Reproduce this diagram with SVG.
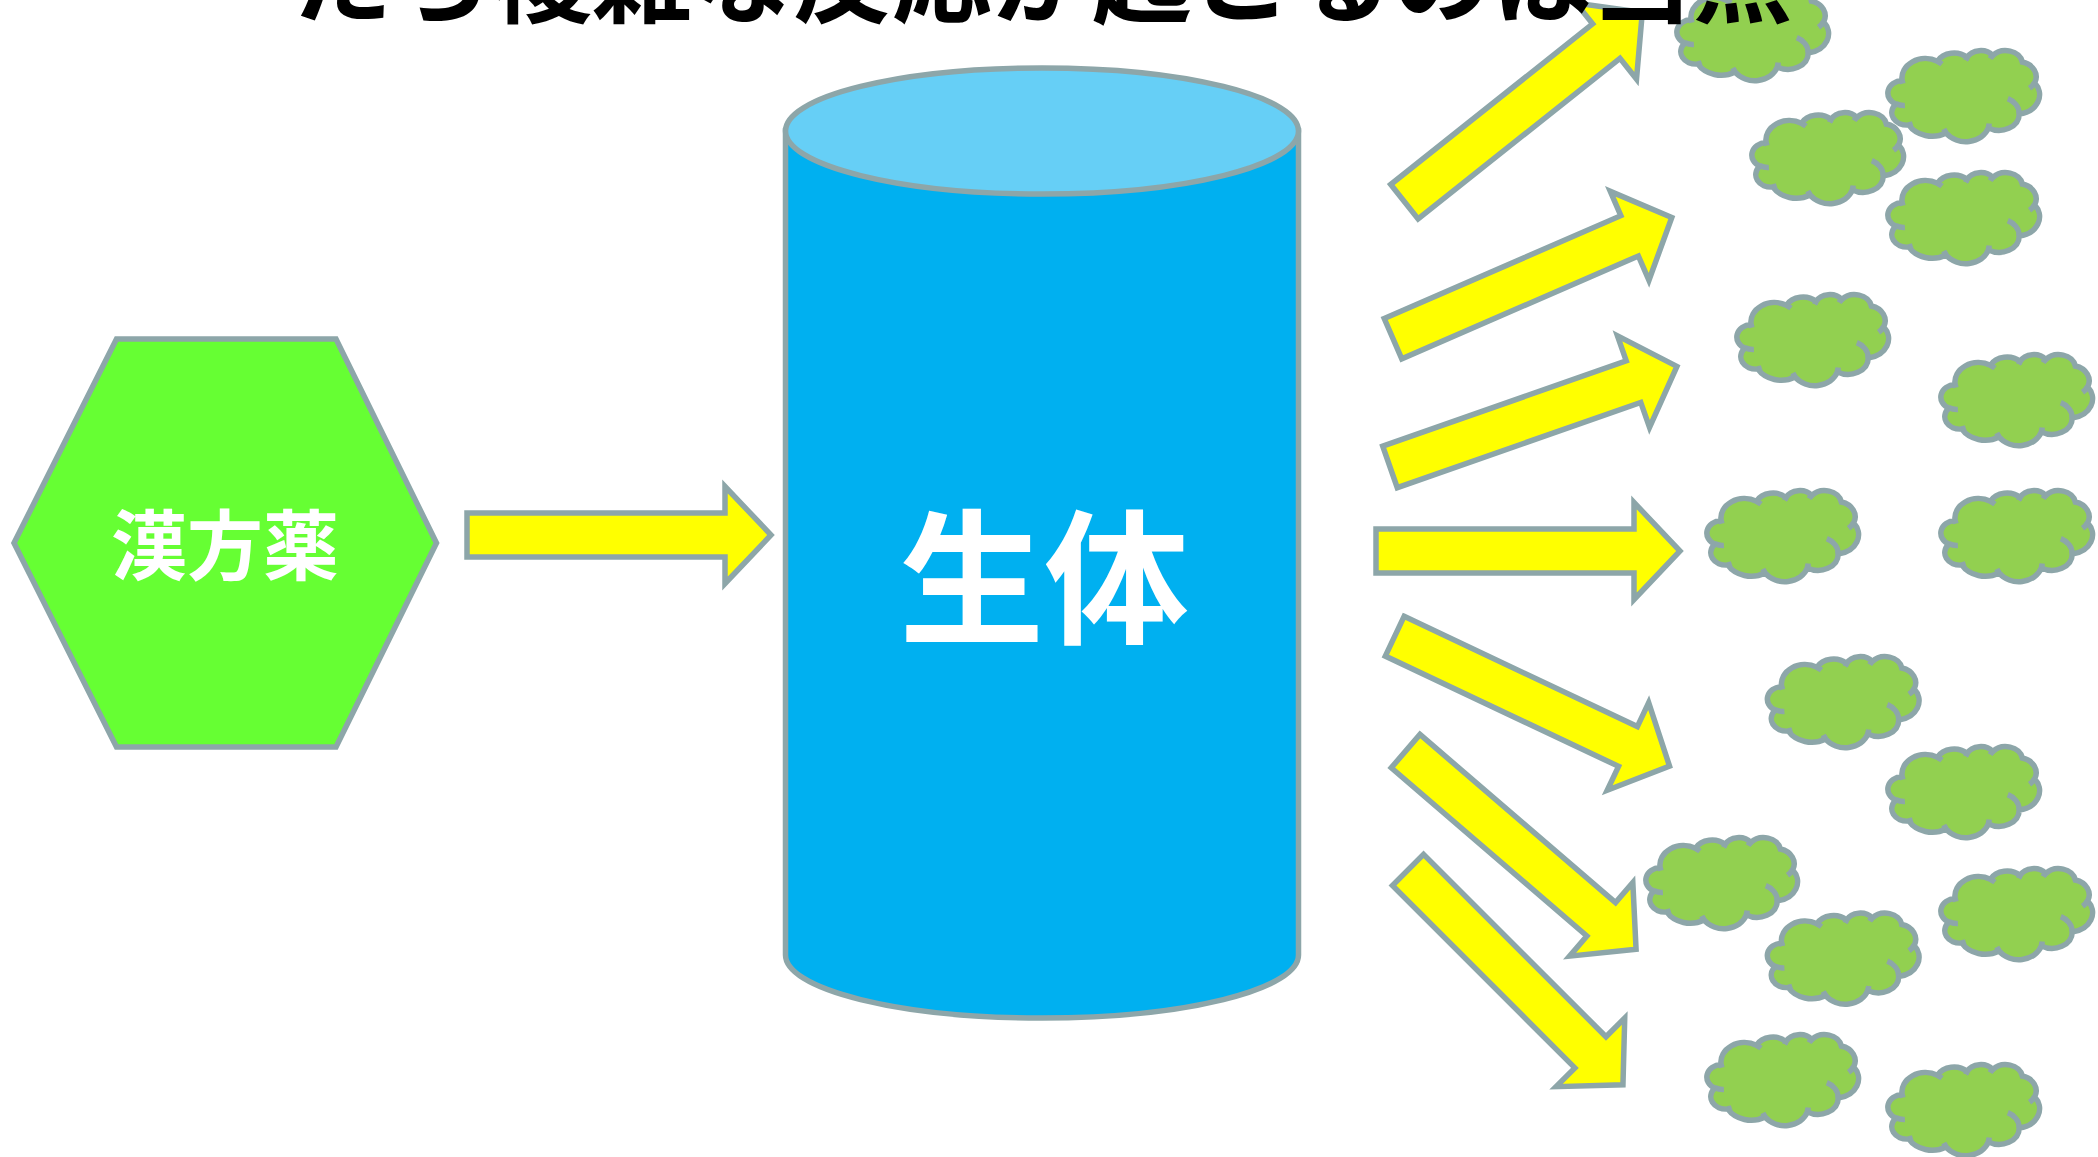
<svg xmlns="http://www.w3.org/2000/svg" xmlns:xlink="http://www.w3.org/1999/xlink" width="2098" height="1157" viewBox="0 0 2098 1157">
<style>
.ln{stroke:#8DA6A9;stroke-width:5.5;stroke-linejoin:miter}
.arrow{fill:#FFFF00;stroke:#8DA6A9;stroke-width:5.5;stroke-linejoin:miter}
.cb{fill:#92D050;stroke:#8DA6A9;stroke-width:5.5;vector-effect:non-scaling-stroke}
.ci{fill:none;stroke:#8DA6A9;stroke-width:5.5;vector-effect:non-scaling-stroke}
.jp{font-family:"Noto Sans CJK JP","Noto Sans CJK SC",sans-serif;font-weight:bold;text-anchor:middle}
</style>
<defs>
<polygon id="arr" class="arrow" points="0,-22 258,-22 258,-48.5 304,0 258,48.5 258,22 0,22"/>
<path id="cloudBody" class="cb" d="M3900 14370 A6753 9190 0 0 1 14005 5203 A5333 7267 0 0 1 22456 3433 A4365 5945 0 0 1 29834 2482 A4857 6595 0 0 1 38319 5577 A5333 7273 0 0 1 41820 15461 A6775 9220 0 0 1 37406 30205 A5785 7867 0 0 1 28558 36815 A6752 9215 0 0 1 16484 39267 A7720 10543 0 0 1 5807 35474 A4360 5918 0 0 1 2115 25553 A4345 5945 0 0 1 3900 14370 Z"/>
<path id="cloudInner" class="ci" d="M4693 26177 A4345 5945 0 0 1 2160 25380 M6928 34899 A4360 5918 0 0 1 5819 35281 M16478 39090 A6752 9215 0 0 1 15809 37349 M28827 34751 A6752 9215 0 0 1 28560 36661 M34129 22954 A5785 7867 0 0 1 37381 30089 M41798 15354 A5333 7273 0 0 1 40349 18031 M38324 5426 A4857 6595 0 0 1 38401 6689 M29078 3952 A4857 6595 0 0 1 29820 2340 M22141 4720 A4365 5945 0 0 1 22500 3332 M14000 5192 A6753 9190 0 0 1 15300 6541 M4127 15789 A6753 9190 0 0 1 3901 14371"/>
<g id="cloud">
<use href="#cloudBody"/>
<use href="#cloudInner"/>
</g>
</defs>

<g id="node-kampo">
<polygon points="14,543 116.5,339 336,339 436.5,543 336,747 116.5,747" fill="#66FF33" class="ln"/>
<text class="jp" x="225" y="574" font-size="76" fill="#FFFFFF">漢方薬</text>
</g>

<g id="node-seitai">
<path d="M785.5,131 V955 A256.5,63 0 0 0 1298.5,955 V131 Z" fill="#00B0F0" class="ln"/>
<ellipse cx="1042" cy="131" rx="256.5" ry="63" fill="#66CFF6" class="ln"/>
<text class="jp" x="1044" y="633" font-size="145" fill="#FFFFFF">生体</text>
</g>

<g id="clouds">
<g id="cloud-1"><use href="#cloud" transform="translate(1677.5,-10.7) scale(0.0034954,0.0021065)"/></g>
<g id="cloud-2"><use href="#cloud" transform="translate(1888.5,50.3) scale(0.0034954,0.0021065)"/></g>
<g id="cloud-3"><use href="#cloud" transform="translate(1752.5,112.3) scale(0.0034954,0.0021065)"/></g>
<g id="cloud-4"><use href="#cloud" transform="translate(1888.5,172.3) scale(0.0034954,0.0021065)"/></g>
<g id="cloud-5"><use href="#cloud" transform="translate(1737.5,294.3) scale(0.0034954,0.0021065)"/></g>
<g id="cloud-6"><use href="#cloud" transform="translate(1941.5,354.3) scale(0.0034954,0.0021065)"/></g>
<g id="cloud-7"><use href="#cloud" transform="translate(1707.5,490.3) scale(0.0034954,0.0021065)"/></g>
<g id="cloud-8"><use href="#cloud" transform="translate(1941.5,490.3) scale(0.0034954,0.0021065)"/></g>
<g id="cloud-9"><use href="#cloud" transform="translate(1768,656.3) scale(0.0034954,0.0021065)"/></g>
<g id="cloud-10"><use href="#cloud" transform="translate(1888.5,746.3) scale(0.0034954,0.0021065)"/></g>
<g id="cloud-11"><use href="#cloud" transform="translate(1646.5,837.3) scale(0.0034954,0.0021065)"/></g>
<g id="cloud-12"><use href="#cloud" transform="translate(1941.5,868.3) scale(0.0034954,0.0021065)"/></g>
<g id="cloud-13"><use href="#cloud" transform="translate(1768,912.8) scale(0.0034954,0.0021065)"/></g>
<g id="cloud-14"><use href="#cloud" transform="translate(1707.5,1034.3) scale(0.0034954,0.0021065)"/></g>
<g id="cloud-15"><use href="#cloud" transform="translate(1888.5,1064.3) scale(0.0034954,0.0021065)"/></g>
</g>

<g id="connectors">
<use href="#arr" transform="translate(467,535)"/>
<use href="#arr" transform="translate(1404.4,201.7) rotate(-38.5)"/>
<use href="#arr" transform="translate(1393,338.7) rotate(-23.5)"/>
<use href="#arr" transform="translate(1390,466.9) rotate(-19.3)"/>
<use href="#arr" transform="translate(1376,551)"/>
<use href="#arr" transform="translate(1394.7,636.2) rotate(25.3)"/>
<use href="#arr" transform="translate(1405.6,751.1) rotate(40.7)"/>
<use href="#arr" transform="translate(1408,869.9) rotate(45)"/>
</g>

<g id="title">
<text class="jp" x="1042" y="15" font-size="100" fill="#000000">たら複雑な反応が起こるのは当然</text>
</g>
</svg>
